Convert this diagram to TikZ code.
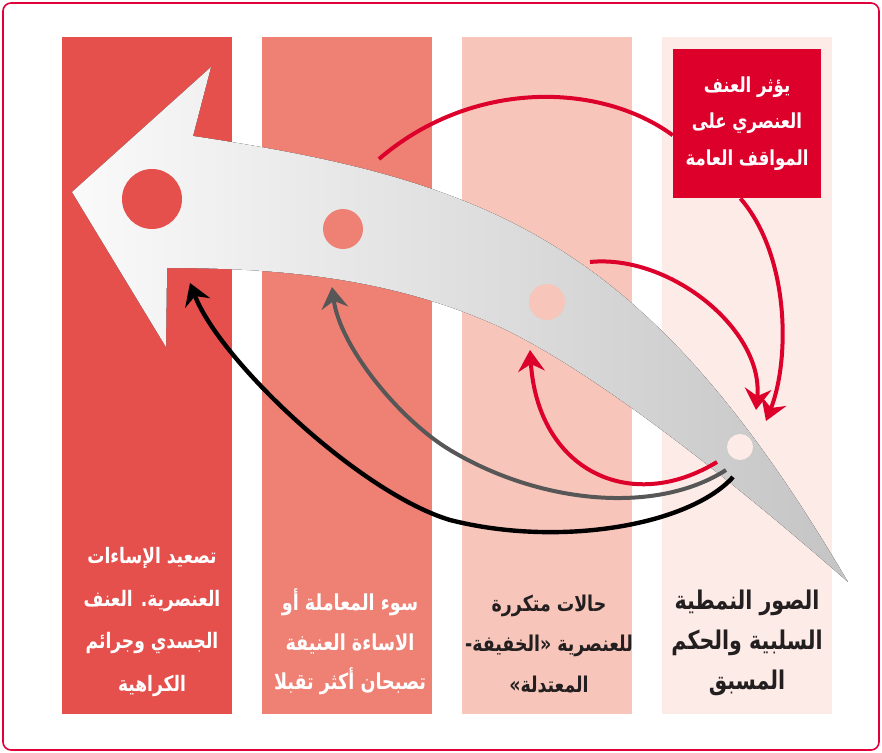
\documentclass[tikz,border=0pt]{standalone}
\usepackage{fontspec}
\newfontfamily\arabicfont[Script=Arabic, FakeStretch=0.8]{DejaVu Sans}
\TeXXeTstate=1
\usepackage{xcolor}
\definecolor{stageA}{HTML}{E5504D}
\definecolor{stageB}{HTML}{EE8174}
\definecolor{stageC}{HTML}{F7C5B9}
\definecolor{stageD}{HTML}{FDEBE7}
\definecolor{impactred}{HTML}{DC002B}
\definecolor{linkgray}{HTML}{575757}
\definecolor{inkdark}{HTML}{231F20}
\definecolor{framered}{HTML}{E2003B}
\usepackage{tikz}
\usetikzlibrary{positioning,arrows.meta,calc}
\newcommand{\rl}[1]{\beginR #1\endR}

\begin{document}
\begin{tikzpicture}[x=0.75pt, y=-0.75pt,
  link/.style={line width=3pt},
  headed/.style={-{Stealth[length=16pt, width=20pt, inset=5.5pt]}},
  stagetext/.style={align=center, inner sep=0pt}]
  \useasboundingbox (0,0) rectangle (882,753);
  \draw[framered, line width=1.2pt, rounded corners=6pt] (3,3) rectangle (879,750);
  % stage bands
  \foreach \x/\c in {62/stageA, 262/stageB, 462/stageC, 662/stageD}
    \fill[\c] (\x,37) rectangle ++(170,677);
  % the big bent arrow
  \fill[left color=black!2, right color=black!23]
       (193,136) .. controls (493,181) and (648,242) .. (848,582)
       .. controls (748,494) and (600,374) .. (500,327)
       .. controls (390,277) and (277,268) .. (167,268)
       -- (166,347) -- (72,192) -- (211,67) -- cycle;
  \fill[stageA] (152,199) circle (30);
  \fill[stageB] (343,229) circle (20);
  \fill[stageC] (547,302) circle (18);
  \fill[stageD] (740,447) circle (13);
  % impact box
  \node[fill=impactred, minimum width=111pt, minimum height=112pt, inner sep=0pt,
        text=white, align=center, font=\arabicfont\bfseries\fontsize{15.5}{27.5}\selectfont]
       (impact) at (747,123.5)
       {\rl{يؤثر العنف}\\\rl{العنصري على}\\\rl{المواقف العامة}};
  % stage labels
  \node[stagetext, text=white, font=\arabicfont\bfseries\fontsize{16}{32}\selectfont]
       (escalation) at (152,622)
       {\rl{تصعيد الإساءات}\\\rl{العنصرية. العنف}\\\rl{الجسدي وجرائم}\\\rl{الكراهية}};
  \node[stagetext, text=white, font=\arabicfont\bfseries\fontsize{16.5}{29.7}\selectfont]
       (abuse) at (350,642)
       {\rl{سوء المعاملة أو}\\\rl{الاساءة العنيفة}\\\rl{تصبحان أكثر تقبلا}};
  \node[stagetext, text=inkdark, font=\arabicfont\bfseries\fontsize{16.3}{30.7}\selectfont]
       (repeated) at (549,644)
       {\rl{حالات متكررة}\\\rl{للعنصرية «الخفيفة-}\\\rl{المعتدلة»}};
  \node[stagetext, text=inkdark, font=\arabicfont\bfseries\fontsize{19.3}{30}\selectfont]
       (stereo) at (747,643)
       {\rl{الصور النمطية}\\\rl{السلبية والحكم}\\\rl{المسبق}};
  % link ends on the arrow
  \coordinate (feedA) at (379,159);
  \coordinate (dropA) at (766,421);
  \coordinate (feedB) at (590,262);
  \coordinate (dropB) at (756,410);
  \coordinate (loopS) at (717,462);
  \coordinate (loopE) at (530,350);
  \coordinate (grayS) at (726,470);
  \coordinate (grayE) at (332,287);
  \coordinate (blackS) at (733,477);
  \coordinate (blackE) at (190,283);
  % links
  \draw[link, impactred] (feedA) .. controls (472,79) and (600,82) .. (impact.189);
  \draw[link, impactred, headed] (impact.265) .. controls (790,256) and (790,360) .. (dropA);
  \draw[link, impactred, headed] (feedB) .. controls (670,254) and (764,330) .. (dropB);
  \draw[link, impactred, headed] (loopS) .. controls (630,515) and (538,470) .. (loopE);
  \draw[link, linkgray, headed] (grayS) .. controls (656,515) and (540,504) .. (450,450)
       .. controls (400,420) and (340,347) .. (grayE);
  \draw[link, black, line width=3.3pt, headed] (blackS) .. controls (690,525) and (560,548) .. (450,520)
       .. controls (360,493) and (220,361) .. (blackE);
\end{tikzpicture}
\end{document}
